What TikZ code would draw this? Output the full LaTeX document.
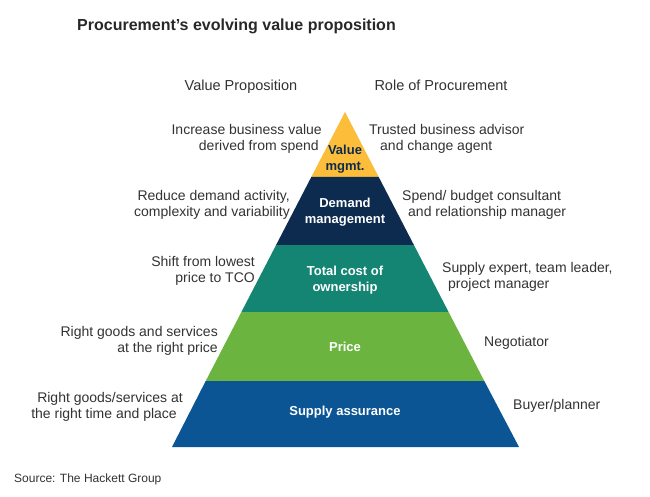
\documentclass[tikz,border=0pt]{standalone}
\usepackage{fontspec}
\setmainfont{Liberation Sans}
\usepackage{xcolor}
\usepackage{tikz}
\definecolor{TextGray}{RGB}{51,51,51}
\definecolor{TitleGray}{RGB}{40,40,40}
\definecolor{ValueGold}{RGB}{251,189,58}
\definecolor{DemandNavy}{RGB}{13,43,78}
\definecolor{CostTeal}{RGB}{19,133,114}
\definecolor{PriceGreen}{RGB}{107,180,63}
\definecolor{SupplyBlue}{RGB}{11,85,149}

\begin{document}
\begin{tikzpicture}[x=1pt, y=-1pt,
    leftlbl/.style={anchor=east, align=right, inner sep=0pt, text=TextGray, font=\fontsize{14}{16.5}\selectfont},
    rightlbl/.style={anchor=west, align=left, inner sep=0pt, text=TextGray, font=\fontsize{14}{16.5}\selectfont},
    layerlbl/.style={align=center, inner sep=0pt, text=white, font=\bfseries\fontsize{13}{15.5}\selectfont},
    header/.style={anchor=base, inner sep=0pt, text=TextGray, font=\fontsize{14.5}{17}\selectfont}]
    \useasboundingbox (0,0) rectangle (650,497);
    \fill[white] (0,0) rectangle (650,497);

    \node[anchor=base west, inner sep=0pt, text=TitleGray, font=\bfseries\fontsize{16}{19}\selectfont] (title) at (77,31) {Procurement’s evolving value proposition};
    \node[header] (valprop) at (241,90.7) {Value Proposition};
    \node[header] (role) at (441,90.7) {Role of Procurement};

    % pyramid layers, top to bottom
    \fill[ValueGold] (345,112) -- (378.7,177) -- (311.3,177) -- cycle;
    \fill[DemandNavy] (311.3,177) -- (378.7,177) -- (413.9,245) -- (276.1,245) -- cycle;
    \fill[CostTeal] (276.1,245) -- (413.9,245) -- (448.6,312) -- (241.4,312) -- cycle;
    \fill[PriceGreen] (241.4,312) -- (448.6,312) -- (484.3,381) -- (205.7,381) -- cycle;
    \fill[SupplyBlue] (205.7,381) -- (484.3,381) -- (519,447) -- (172,447) -- cycle;

    \node[layerlbl, text=DemandNavy] (value) at (345,159) {Value\\mgmt.};
    \node[layerlbl] (demand) at (345,212) {Demand\\management};
    \node[layerlbl] (tco) at (345,280) {Total cost of\\ownership};
    \node[layerlbl] (price) at (345,347) {Price};
    \node[layerlbl] (supply) at (345,412) {Supply assurance};

    % value proposition side
    \node[leftlbl] (vp1) at (322,139) {Increase business value\\derived from spend\hspace*{3pt}};
    \node[leftlbl] (vp2) at (290,205) {Reduce demand activity,\\complexity and variability};
    \node[leftlbl] (vp3) at (255,271) {Shift from lowest\\price to TCO};
    \node[leftlbl] (vp4) at (218,341) {Right goods and services\\at the right price};
    \node[leftlbl] (vp5) at (183,407) {Right goods/services at\\the right time and place\hspace*{6pt}};

    % role of procurement side
    \node[rightlbl] (rp1) at (369,139) {Trusted business advisor\\\hspace*{11pt}and change agent};
    \node[rightlbl] (rp2) at (402,205) {Spend/ budget consultant\\\hspace*{6pt}and relationship manager};
    \node[rightlbl] (rp3) at (442,277) {Supply expert, team leader,\\\hspace*{6pt}project manager};
    \node[rightlbl] (rp4) at (484,343) {Negotiator};
    \node[rightlbl] (rp5) at (513,406) {Buyer/planner};

    \node[anchor=base west, inner sep=0pt, text=TextGray, font=\fontsize{12}{14}\selectfont] (source) at (14,482) {Source: The Hackett Group};
\end{tikzpicture}
\end{document}
